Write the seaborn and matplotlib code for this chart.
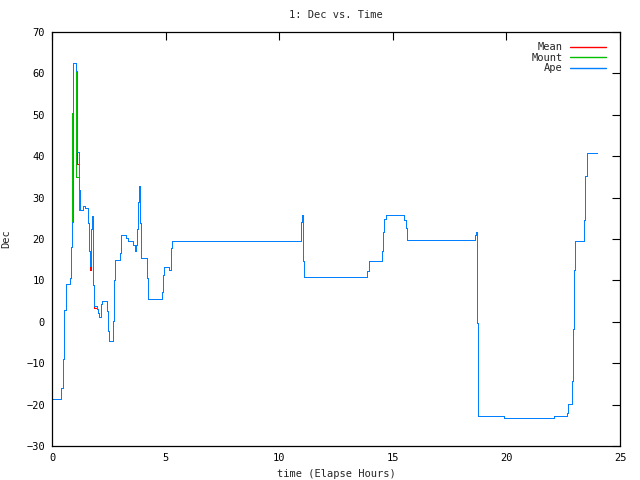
import matplotlib
matplotlib.use("Agg")
import matplotlib.pyplot as plt
import seaborn as sns

# elapsed hours (breakpoints of the step trace)
hours = [0.00, 0.40, 0.47, 0.54, 0.60, 0.78, 0.82, 0.85, 0.86, 0.88,
         0.91, 0.92, 0.94, 1.04, 1.07, 1.09, 1.11, 1.17, 1.19, 1.21,
         1.38, 1.45, 1.60, 1.64, 1.68, 1.72, 1.76, 1.79, 1.85, 1.97,
         2.01, 2.08, 2.14, 2.19, 2.43, 2.48, 2.52, 2.67, 2.71, 2.76,
         3.01, 3.05, 3.27, 3.35, 3.58, 3.64, 3.70, 3.76, 3.79, 3.84,
         3.87, 3.92, 4.20, 4.24, 4.86, 4.90, 4.94, 5.16, 5.22, 5.27,
         10.94, 10.97, 11.00, 11.03, 11.08, 13.88, 13.93, 14.52, 14.56, 14.62,
         14.70, 15.51, 15.56, 15.62, 18.63, 18.68, 18.72, 18.75, 19.90, 22.08,
         22.65, 22.70, 22.90, 22.93, 22.96, 23.00, 23.43, 23.48, 23.55, 23.97]

ape = [-18.7, -15.9, -8.9, 2.9, 9.2, 10.5, 13.4, 18.0, 18.0, 24.0,
       45.0, 45.0, 62.6, 60.6, 60.6, 56.5, 41.1, 31.9, 31.9, 27.0,
       27.9, 27.4, 23.9, 17.0, 13.4, 22.5, 25.6, 8.9, 3.7, 3.1,
       2.2, 1.2, 4.3, 5.1, 2.7, -2.2, -4.7, 0.2, 10.1, 15.0,
       16.7, 21.0, 20.2, 19.6, 18.6, 17.1, 18.6, 22.5, 29.0, 32.9,
       23.8, 15.4, 10.7, 5.6, 7.3, 11.4, 13.2, 12.6, 17.8, 19.6,
       21.4, 24.0, 25.8, 14.6, 10.8, 12.2, 14.7, 17.1, 21.8, 24.8,
       25.8, 24.5, 22.6, 19.7, 21.0, 21.7, -0.3, -22.7, -23.3, -22.7,
       -22.1, -19.8, -14.4, -1.8, 12.6, 19.6, 24.6, 35.3, 40.7, 40.7]

mount = [-18.7, -15.9, -8.9, 2.9, 9.2, 10.5, 13.4, 18.0, 50.4, 50.4,
         50.4, 62.6, 62.6, 56.5, 35.0, 35.0, 35.0, 35.0, 27.0, 27.0,
         27.9, 27.4, 23.9, 17.0, 13.4, 22.5, 25.6, 8.9, 3.7, 3.1,
         2.2, 1.2, 4.3, 5.1, 2.7, -2.2, -4.7, 0.2, 10.1, 15.0,
         16.7, 21.0, 20.2, 19.6, 18.6, 17.1, 18.6, 22.5, 29.0, 32.9,
         23.8, 15.4, 10.7, 5.6, 7.3, 11.4, 13.2, 12.6, 17.8, 19.6,
         21.4, 24.0, 25.8, 14.6, 10.8, 12.2, 14.7, 17.1, 21.8, 24.8,
         25.8, 24.5, 22.6, 19.7, 21.0, 21.7, -0.3, -22.7, -23.3, -22.7,
         -22.1, -19.8, -14.4, -1.8, 12.6, 19.6, 24.6, 35.3, 40.7, 40.7]

mean = [-18.7, -15.9, -8.9, 2.9, 9.2, 10.5, 13.4, 18.0, 34.0, 37.0,
        48.0, 54.0, 62.6, 58.5, 52.0, 46.0, 38.0, 33.0, 29.0, 27.0,
        27.9, 27.4, 23.9, 17.0, 12.6, 22.5, 25.6, 8.9, 3.4, 3.1,
        2.2, 1.2, 4.3, 5.1, 2.7, -2.2, -4.7, 0.2, 10.1, 15.0,
        16.7, 21.0, 20.2, 19.6, 18.6, 17.1, 18.6, 22.5, 29.0, 32.9,
        23.8, 15.4, 10.7, 5.6, 7.3, 11.4, 13.2, 12.6, 17.8, 19.6,
        21.4, 24.0, 25.8, 14.6, 10.8, 12.2, 14.7, 17.1, 21.8, 24.8,
        25.8, 24.5, 22.6, 19.7, 21.0, 21.7, -0.3, -22.7, -23.3, -22.7,
        -22.1, -19.8, -14.4, -1.8, 12.6, 19.6, 24.6, 35.3, 40.7, 40.7]

sns.set_style("white")
plt.rcParams["font.family"] = ["DejaVu Sans Mono"]
plt.rcParams["font.size"] = 7.5

fig = plt.figure(figsize=(6.4, 4.8), dpi=100)
ax = fig.add_axes([0.0813, 0.0708, 0.8875, 0.8625])

# gnuplot draws in order, so Ape ends up on top (1px, no antialiasing)
line_kw = dict(linewidth=0.72, drawstyle="steps-post", estimator=None,
               sort=False, antialiased=False)
sns.lineplot(x=hours, y=mean, ax=ax, color="#ff0000", label="Mean", **line_kw)
sns.lineplot(x=hours, y=mount, ax=ax, color="#00c000", label="Mount", **line_kw)
sns.lineplot(x=hours, y=ape, ax=ax, color="#0080ff", label="Ape", **line_kw)

ax.set_xlim(0, 25)
ax.set_ylim(-30, 70)
ax.set_xticks(range(0, 26, 5))
ax.set_yticks(range(-30, 71, 10))
ax.tick_params(direction="in", length=6, width=0.8, top=True, right=True,
               labelsize=7.5, colors="black", pad=5)
for s in ax.spines.values():
    s.set_color("black")
    s.set_linewidth(0.9)

ax.set_title("1: Dec vs. Time", fontsize=7.5, pad=10)
ax.set_xlabel("time (Elapse Hours)", fontsize=7.5, labelpad=4)
ax.set_ylabel("Dec", fontsize=7.5)
ax.yaxis.set_label_coords(-0.072, 0.5)

ax.legend(loc="upper right", frameon=False, markerfirst=False, fontsize=7.5,
          handlelength=3.4, handletextpad=0.7, labelspacing=0.05,
          borderaxespad=0.0, bbox_to_anchor=(0.982, 0.985))
for t in ax.get_legend().get_texts():
    t.set_ha("right")
for h in ax.get_legend().get_lines():
    h.set_antialiased(True)
    h.set_linewidth(1.0)

fig.savefig("out.png", dpi=100)
